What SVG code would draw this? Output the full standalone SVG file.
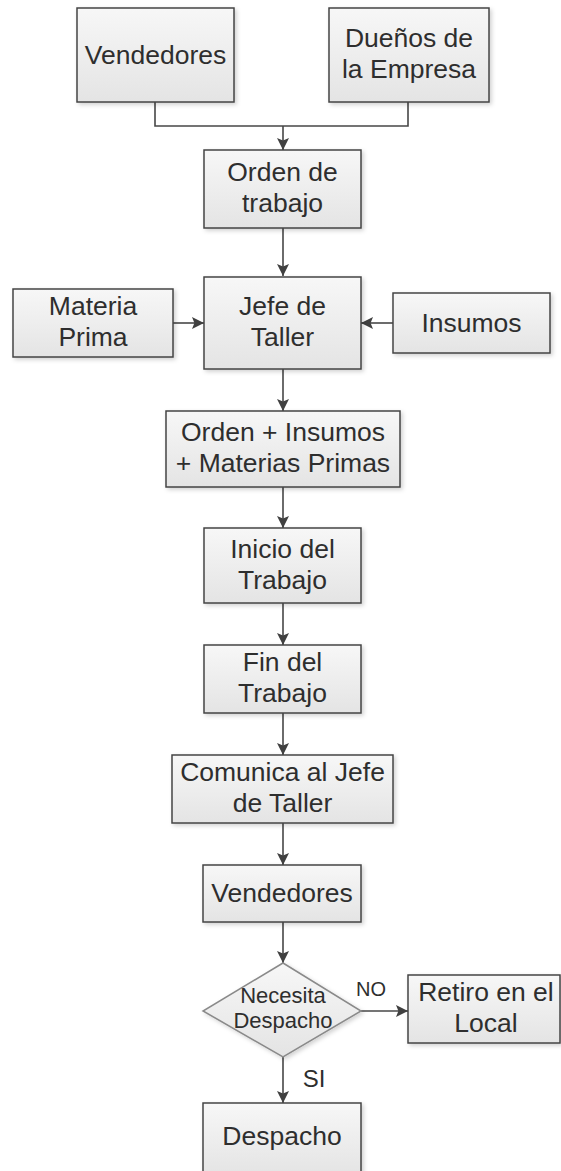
<svg xmlns="http://www.w3.org/2000/svg" width="561" height="1171" viewBox="0 0 561 1171">
  <style>
    .box { fill: url(#g); stroke: #454545; stroke-width: 1.5; filter: url(#sh); }
    .dia { fill: url(#g); stroke: #8a8a8a; stroke-width: 1.5; filter: url(#sh); }
    .t { font-family: "Liberation Sans", Arial, sans-serif; font-size: 26.5px; fill: #2e2e2e; text-anchor: middle; }
    .s { font-family: "Liberation Sans", Arial, sans-serif; font-size: 22px; fill: #2e2e2e; text-anchor: middle; }
    .c { fill: none; stroke: #474747; stroke-width: 1.6; }
  </style>
  <defs>
    <linearGradient id="g" x1="0" y1="0" x2="0" y2="1">
      <stop offset="0" stop-color="#f7f7f7"/>
      <stop offset="1" stop-color="#e4e4e4"/>
    </linearGradient>
    <filter id="sh" x="-10%" y="-10%" width="125%" height="130%">
      <feDropShadow dx="2" dy="2" stdDeviation="2" flood-color="#000" flood-opacity="0.18"/>
    </filter>
    <marker id="ah" viewBox="0 0 10 10" refX="10" refY="5" markerWidth="12" markerHeight="12" markerUnits="userSpaceOnUse" orient="auto">
      <path d="M0,0 L10,5 L0,10 L2,5 z" fill="#404040"/>
    </marker>
  </defs>
  <rect width="561" height="1171" fill="#ffffff"/>

  <g id="connectors">
    <path class="c" d="M155,102 V126 H408 V102"/>
    <path class="c" d="M283,126 V150" marker-end="url(#ah)"/>
    <path class="c" d="M283,228 V276" marker-end="url(#ah)"/>
    <path class="c" d="M173,323 H204" marker-end="url(#ah)"/>
    <path class="c" d="M393,323 H361" marker-end="url(#ah)"/>
    <path class="c" d="M283,369 V411" marker-end="url(#ah)"/>
    <path class="c" d="M283,487 V528" marker-end="url(#ah)"/>
    <path class="c" d="M283,603 V645" marker-end="url(#ah)"/>
    <path class="c" d="M283,713 V755" marker-end="url(#ah)"/>
    <path class="c" d="M283,823 V865" marker-end="url(#ah)"/>
    <path class="c" d="M283,922 V963" marker-end="url(#ah)"/>
    <path class="c" d="M361,1011 H408" marker-end="url(#ah)"/>
    <path class="c" d="M283,1057 V1103" marker-end="url(#ah)"/>
    <text class="s" x="371" y="996" style="font-size:20px">NO</text>
    <text class="s" x="314" y="1087" style="font-size:24px">SI</text>
  </g>

  <g id="vendedores">
    <rect class="box" x="77" y="8" width="157" height="94"/>
    <text class="t" x="155.5" y="64">Vendedores</text>
  </g>
  <g id="duenos">
    <rect class="box" x="329" y="8" width="160" height="94"/>
    <text class="t" x="409" y="47">Dueños de</text>
    <text class="t" x="409" y="78">la Empresa</text>
  </g>
  <g id="orden-trabajo">
    <rect class="box" x="204" y="150" width="157" height="78"/>
    <text class="t" x="282.5" y="181">Orden de</text>
    <text class="t" x="282.5" y="212">trabajo</text>
  </g>
  <g id="materia-prima">
    <rect class="box" x="13" y="289" width="160" height="68"/>
    <text class="t" x="93" y="315">Materia</text>
    <text class="t" x="93" y="346">Prima</text>
  </g>
  <g id="jefe-taller">
    <rect class="box" x="204" y="277" width="157" height="92"/>
    <text class="t" x="282.5" y="315">Jefe de</text>
    <text class="t" x="282.5" y="346">Taller</text>
  </g>
  <g id="insumos">
    <rect class="box" x="393" y="293" width="157" height="60"/>
    <text class="t" x="471.5" y="332">Insumos</text>
  </g>
  <g id="orden-insumos">
    <rect class="box" x="166" y="411" width="234" height="76"/>
    <text class="t" x="283" y="441">Orden + Insumos</text>
    <text class="t" x="283" y="472">+ Materias Primas</text>
  </g>
  <g id="inicio">
    <rect class="box" x="204" y="528" width="157" height="75"/>
    <text class="t" x="282.5" y="558">Inicio del</text>
    <text class="t" x="282.5" y="589">Trabajo</text>
  </g>
  <g id="fin">
    <rect class="box" x="204" y="645" width="157" height="68"/>
    <text class="t" x="282.5" y="671">Fin del</text>
    <text class="t" x="282.5" y="702">Trabajo</text>
  </g>
  <g id="comunica">
    <rect class="box" x="172" y="755" width="221" height="68"/>
    <text class="t" x="282.5" y="781">Comunica al Jefe</text>
    <text class="t" x="282.5" y="812">de Taller</text>
  </g>
  <g id="vendedores2">
    <rect class="box" x="203" y="865" width="158" height="57"/>
    <text class="t" x="282" y="902">Vendedores</text>
  </g>
  <g id="decision">
    <polygon class="dia" points="283,963 361,1011 283,1057 203,1011"/>
    <text class="s" x="283" y="1003">Necesita</text>
    <text class="s" x="283" y="1028">Despacho</text>
  </g>
  <g id="retiro">
    <rect class="box" x="408" y="975" width="152" height="68"/>
    <text class="t" x="486" y="1001">Retiro en el</text>
    <text class="t" x="486" y="1032">Local</text>
  </g>
  <g id="despacho">
    <rect class="box" x="203" y="1103" width="158" height="72"/>
    <text class="t" x="282" y="1145">Despacho</text>
  </g>
</svg>
